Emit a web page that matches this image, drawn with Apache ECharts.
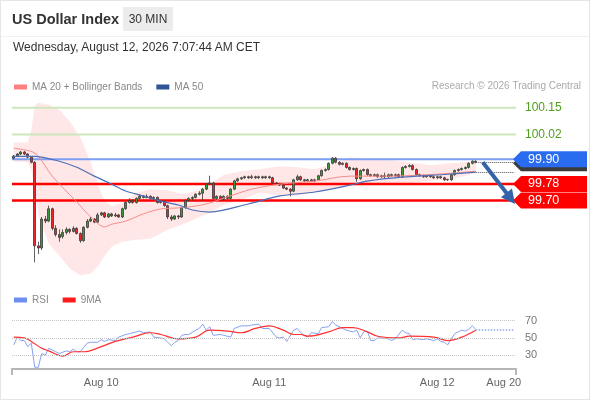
<!DOCTYPE html>
<html>
<head>
<meta charset="utf-8">
<script src="https://cdn.jsdelivr.net/npm/echarts@6/dist/echarts.min.js"></script>
<style>
  html, body { margin: 0; padding: 0; background: #fff; }
  #page { position: relative; width: 590px; height: 400px; overflow: hidden; font-family: 'Liberation Sans', Arial, sans-serif; }
  #chart { position: absolute; left: 0; top: 0; width: 590px; height: 400px; }
  .frame { position: absolute; left: 0; top: 0; width: 588px; height: 398px; border: 1px solid #e6e6e6; pointer-events: none; }
  .hdr { position: absolute; left: 0; top: 0; width: 590px; height: 36px; border-bottom: 1px solid #f0f0f0; }
  .ttl { position: absolute; left: 12px; top: 11px; font-size: 14.5px; font-weight: bold; color: #333; }
  .badge { position: absolute; left: 123px; top: 7px; width: 50px; height: 24px; line-height: 24px; text-align: center; background: #ececec; font-size: 12px; color: #333; }
  .date { position: absolute; left: 13px; top: 40px; font-size: 12px; color: #333; }
</style>
</head>
<body>
<div id="page">
  <div id="chart"></div>
  <div class="hdr">
    <div class="ttl">US Dollar Index</div>
    <div class="badge">30 MIN</div>
  </div>
  <div class="date">Wednesday, August 12, 2026 7:07:44 AM CET</div>
  <div class="frame"></div>
</div>
<script>
// 30 min candles, [open, close, low, high]
const candles = [
  [99.905,99.915,99.900,99.920],[99.915,99.925,99.910,99.930],[99.925,99.935,99.920,99.940],[99.935,99.925,99.920,99.940],
  [99.925,99.910,99.905,99.930],[99.910,99.885,99.880,99.915],[99.885,99.480,99.400,99.890],[99.480,99.470,99.440,99.500],
  [99.470,99.610,99.460,99.620],[99.610,99.600,99.590,99.625],[99.600,99.660,99.595,99.675],[99.660,99.565,99.555,99.665],
  [99.565,99.535,99.525,99.580],[99.535,99.520,99.500,99.560],[99.525,99.545,99.515,99.560],[99.545,99.560,99.535,99.570],
  [99.560,99.550,99.540,99.565],[99.550,99.565,99.545,99.575],[99.565,99.540,99.535,99.570],[99.540,99.505,99.495,99.545],
  [99.505,99.570,99.500,99.575],[99.570,99.600,99.565,99.610],[99.600,99.610,99.595,99.620],[99.610,99.595,99.590,99.615],
  [99.595,99.630,99.590,99.640],[99.630,99.640,99.625,99.645],[99.640,99.620,99.615,99.645],[99.620,99.635,99.615,99.640],
  [99.635,99.625,99.620,99.640],[99.625,99.630,99.620,99.640],[99.630,99.620,99.615,99.635],[99.620,99.660,99.615,99.665],
  [99.660,99.690,99.655,99.695],[99.690,99.700,99.685,99.710],[99.700,99.690,99.685,99.705],[99.690,99.710,99.685,99.715],
  [99.710,99.720,99.705,99.730],[99.720,99.715,99.710,99.725],[99.715,99.720,99.710,99.730],[99.720,99.710,99.705,99.725],
  [99.710,99.715,99.700,99.720],[99.715,99.690,99.685,99.720],[99.690,99.695,99.685,99.700],[99.695,99.675,99.670,99.700],
  [99.675,99.620,99.610,99.680],[99.620,99.610,99.600,99.630],[99.610,99.625,99.605,99.630],[99.625,99.620,99.610,99.630],
  [99.620,99.665,99.615,99.670],[99.665,99.700,99.660,99.705],[99.700,99.710,99.695,99.715],[99.710,99.715,99.700,99.720],
  [99.715,99.730,99.710,99.735],[99.730,99.735,99.725,99.745],[99.735,99.755,99.700,99.760],[99.755,99.780,99.750,99.785],
  [99.780,99.785,99.775,99.820],[99.785,99.710,99.705,99.790],[99.710,99.720,99.705,99.725],[99.720,99.705,99.700,99.725],
  [99.705,99.720,99.700,99.725],[99.720,99.710,99.705,99.725],[99.710,99.755,99.705,99.760],[99.755,99.795,99.750,99.800],
  [99.795,99.805,99.790,99.810],[99.805,99.810,99.800,99.815],[99.810,99.815,99.805,99.820],[99.815,99.810,99.805,99.820],
  [99.810,99.815,99.805,99.825],[99.815,99.810,99.805,99.820],[99.810,99.815,99.805,99.820],[99.815,99.810,99.805,99.820],
  [99.810,99.815,99.805,99.820],[99.815,99.810,99.805,99.820],[99.810,99.785,99.780,99.815],[99.785,99.780,99.775,99.790],
  [99.780,99.775,99.770,99.785],[99.775,99.760,99.755,99.780],[99.760,99.755,99.750,99.765],[99.755,99.745,99.720,99.760],
  [99.745,99.800,99.740,99.805],[99.800,99.815,99.795,99.825],[99.815,99.800,99.795,99.820],[99.800,99.795,99.790,99.805],
  [99.795,99.800,99.790,99.805],[99.800,99.795,99.790,99.805],[99.795,99.800,99.790,99.805],[99.800,99.820,99.795,99.825],
  [99.820,99.845,99.815,99.850],[99.845,99.850,99.840,99.855],[99.850,99.880,99.845,99.885],[99.880,99.905,99.875,99.910],
  [99.905,99.885,99.880,99.910],[99.885,99.875,99.870,99.890],[99.875,99.880,99.870,99.885],[99.880,99.860,99.855,99.885],
  [99.860,99.850,99.845,99.865],[99.850,99.855,99.845,99.860],[99.855,99.805,99.790,99.860],[99.805,99.845,99.800,99.850],
  [99.845,99.850,99.840,99.855],[99.850,99.825,99.820,99.855],[99.825,99.820,99.815,99.830],[99.820,99.825,99.815,99.830],
  [99.825,99.815,99.810,99.830],[99.815,99.820,99.810,99.825],[99.820,99.815,99.805,99.835],[99.815,99.825,99.810,99.830],
  [99.825,99.820,99.815,99.830],[99.820,99.825,99.815,99.830],[99.825,99.815,99.810,99.830],[99.815,99.860,99.810,99.865],
  [99.860,99.865,99.855,99.870],[99.865,99.870,99.860,99.875],[99.870,99.850,99.845,99.875],[99.850,99.825,99.820,99.855],
  [99.825,99.820,99.815,99.830],[99.820,99.815,99.810,99.825],[99.815,99.820,99.810,99.825],[99.820,99.815,99.810,99.825],
  [99.815,99.810,99.805,99.820],[99.810,99.815,99.805,99.820],[99.815,99.810,99.805,99.820],[99.810,99.800,99.795,99.815],
  [99.800,99.802,99.795,99.805],[99.800,99.825,99.795,99.830],[99.825,99.845,99.820,99.850],[99.845,99.850,99.840,99.855],
  [99.850,99.855,99.845,99.860],[99.855,99.860,99.850,99.865],[99.860,99.880,99.855,99.885],[99.880,99.890,99.875,99.895],
  [99.890,99.885,99.880,99.895]
];

// overlays, [slot index, value]
const ma20 = [[0,99.953],[5,99.938],[7,99.915],[11,99.818],[18,99.693],[22,99.62],[26,99.572],[28,99.585],[32,99.60],
  [37,99.635],[42,99.659],[47,99.664],[52,99.673],[56,99.688],[61,99.717],[68,99.755],[76,99.779],[86,99.794],
  [96,99.818],[108,99.818],[116,99.823],[125,99.832],[132,99.842]];
const ma50 = [[0,99.914],[6,99.914],[13,99.89],[18,99.861],[23,99.818],[28,99.779],[32,99.746],[37,99.722],[42,99.697],
  [47,99.678],[51,99.654],[56,99.644],[67,99.683],[76,99.722],[86,99.741],[96,99.774],[101,99.794],[111,99.813],
  [124,99.827],[132,99.837]];
const bbIdx   = [0, 4, 5, 6, 7, 10, 13, 16, 19, 22, 24, 26, 28, 31, 35, 39, 44, 48, 52, 56, 60, 65, 70, 76, 81, 86, 91, 96, 101, 108, 113, 119, 125, 132];
const bbUpper = [99.981, 99.981, 100.04, 100.16, 100.174, 100.164, 100.14, 100.083, 100.006, 99.885, 99.779, 99.697, 99.673, 99.688, 99.736, 99.755, 99.75, 99.731, 99.746, 99.779, 99.823, 99.842, 99.851, 99.866, 99.861, 99.851, 99.876, 99.909, 99.904, 99.895, 99.885, 99.871, 99.88, 99.89];
const bbLower = [99.89, 99.885, 99.85, 99.755, 99.635, 99.49, 99.433, 99.37, 99.336, 99.346, 99.38, 99.433, 99.476, 99.5, 99.51, 99.514, 99.558, 99.582, 99.611, 99.64, 99.678, 99.702, 99.736, 99.726, 99.722, 99.741, 99.755, 99.77, 99.779, 99.779, 99.784, 99.794, 99.803, 99.832];

const rsi = [[0,42],[1,51],[2,47],[3,47],[4,40],[5,44],[6,16],[7,16],[8,32],[9,30],[10,38],[12,34],[13,32],[15,35],
  [16,34],[17,37],[18,34],[19,34],[21,44],[22,45],[24,45],[25,48],[26,46],[27,48],[29,47],[30,51],[32,54],[33,55],
  [35,57],[36,58],[37,56],[39,57],[40,51],[42,50],[43,49],[44,45],[45,41],[46,45],[47,47],[48,53],[49,54],[50,54],
  [52,59],[53,61],[54,66],[55,59],[56,63],[57,53],[59,54],[60,53],[62,51],[63,61],[65,64],[67,64],[68,65],[70,66],
  [71,61],[73,61],[75,51],[76,50],[77,51],[78,46],[80,59],[81,61],[82,56],[83,53],[84,51],[85,56],[87,55],[88,62],
  [90,63],[91,69],[92,65],[94,61],[95,59],[97,57],[98,59],[99,50],[100,57],[101,58],[102,47],[103,47],[104,50],
  [105,50],[107,49],[108,47],[109,49],[111,59],[112,56],[113,55],[114,48],[115,49],[117,48],[118,49],[120,47],
  [121,49],[122,46],[123,45],[124,42],[125,49],[126,55],[127,57],[128,59],[129,58],[130,60],[131,64],[132,60]];
const rsiMa = [[0,51],[3,50],[5,46],[8,38],[10,35],[14,29],[17,34],[20,34],[25,40],[29,46],[34,51],[39,56],[42,54],
  [47,49],[52,51],[56,59],[61,58],[65,56],[69,61],[73,64],[77,59],[80,54],[82,54],[84,52],[90,57],[94,62],[97,62],
  [101,57],[104,52],[110,50],[113,52],[120,51],[124,47],[128,51],[132,59]];
const rsiLevels = [70, 50, 30];

const levels     = [100.15, 100.02, 99.90, 99.78, 99.70];
const levelKinds = ['target', 'target', 'pivot', 'support', 'support'];

const tickIdx  = [25, 73, 121, 140];
const tickText = ['Aug 10', 'Aug 11', 'Aug 12', 'Aug 20'];
const slotCount = 144;

const lastPrice = 99.885;
const lastMa = 99.837;
const lastRsi = 60;
const arrowFrom = [134, 99.885];
const arrowTo   = [142, 99.71];

const slots = [];
for (let i = 0; i < slotCount; i++) slots.push(String(i));

const levelStyle = {
  target:  { line: '#cde6bd', width: 2 },
  pivot:   { line: '#7d9ff3', width: 2, tag: '#2a6cf0' },
  support: { line: '#ff0000', width: 2.4, tag: '#ff0000' }
};

const FONT = 'Liberation Sans, Arial, sans-serif';
const chart = echarts.init(document.getElementById('chart'));

// grid edges shared by both panels
const gridLeft = 12, gridRight = 74, rsiTop = 303, rsiHeight = 66;

chart.setOption({
  animation: false,
  textStyle: { fontFamily: FONT },
  legend: [
    {
      left: 14, top: 82, padding: 0, itemWidth: 13, itemHeight: 5, itemGap: 14, icon: 'rect', selectedMode: false,
      textStyle: { color: '#888', fontSize: 10 },
      data: [
        { name: 'MA 20 + Bollinger Bands', itemStyle: { color: '#ff8080' } },
        { name: 'MA 50', itemStyle: { color: '#2f5597' } }
      ]
    },
    {
      left: 14, top: 295, padding: 0, itemWidth: 13, itemHeight: 5, itemGap: 14, icon: 'rect', selectedMode: false,
      textStyle: { color: '#888', fontSize: 10 },
      data: [
        { name: 'RSI', itemStyle: { color: '#6f8fef' } },
        { name: '9MA', itemStyle: { color: '#ff1a1a' } }
      ]
    }
  ],
  graphic: [
    {
      type: 'text', right: 9, top: 81,
      style: { text: 'Research \u00a9 2026 Trading Central', fill: '#aaa', font: '10px ' + FONT }
    },
    {
      type: 'line', silent: true,
      shape: { x1: gridLeft, y1: rsiTop + rsiHeight, x2: gridLeft, y2: rsiTop + rsiHeight + 6 },
      style: { stroke: '#b5b5b5', lineWidth: 2 }
    },
    {
      type: 'line', silent: true,
      shape: { x1: 590 - gridRight, y1: rsiTop + rsiHeight, x2: 590 - gridRight, y2: rsiTop + rsiHeight + 6 },
      style: { stroke: '#b5b5b5', lineWidth: 2 }
    }
  ],
  grid: [
    { left: gridLeft, right: gridRight, top: 87, height: 196 },
    { left: gridLeft, right: gridRight, top: rsiTop, height: rsiHeight }
  ],
  xAxis: [
    { type: 'category', gridIndex: 0, data: slots, show: false },
    {
      type: 'category', gridIndex: 1, data: slots,
      axisLine: { lineStyle: { color: '#b5b5b5', width: 2 } },
      axisTick: { show: false },
      axisLabel: {
        interval: 0, color: '#666', fontSize: 11, margin: 8,
        formatter: (v, i) => { const k = tickIdx.indexOf(i); return k >= 0 ? tickText[k] : ''; }
      }
    }
  ],
  yAxis: [
    { type: 'value', gridIndex: 0, min: 99.30, max: 100.25, show: false, splitLine: { show: false } },
    { type: 'value', gridIndex: 1, min: 14, max: 90.5, show: false, splitLine: { show: false } }
  ],
  series: [
    {
      type: 'custom', name: 'band', xAxisIndex: 0, yAxisIndex: 0, z: 1, silent: true, clip: true,
      data: bbIdx.map((x, k) => [x, bbUpper[k], bbLower[k]]),
      encode: { x: 0, y: [1, 2] },
      renderItem: function (params, api) {
        if (params.dataIndex !== 0) return null;
        const pts = [];
        for (let k = 0; k < bbIdx.length; k++) pts.push(api.coord([bbIdx[k], bbUpper[k]]));
        for (let k = bbIdx.length - 1; k >= 0; k--) pts.push(api.coord([bbIdx[k], bbLower[k]]));
        return { type: 'polygon', shape: { points: pts }, style: { fill: 'rgba(255,110,110,0.17)' } };
      }
    },
    {
      type: 'custom', name: 'levels', xAxisIndex: 0, yAxisIndex: 0, z: 2, silent: true, clip: false,
      data: levels.map((v) => [0, v]),
      encode: { x: 0, y: 1 },
      renderItem: function (params, api) {
        const k = params.dataIndex;
        const v = levels[k];
        const st = levelStyle[levelKinds[k]];
        const cs = params.coordSys;
        const y = api.coord([0, v])[1];
        const right = cs.x + cs.width;
        const children = [{
          type: 'line', shape: { x1: cs.x, y1: y, x2: right, y2: y },
          style: { stroke: st.line, lineWidth: st.width }
        }];
        if (levelKinds[k] === 'target') {
          children.push({
            type: 'text', x: right + 9, y: y,
            style: { text: v.toFixed(2), fill: '#4f9d1e', font: '12px ' + FONT, verticalAlign: 'middle' }
          });
        } else {
          const x0 = right - 3, w = 74, h = 16;
          const tag = (dy) => [[x0, y + dy], [x0 + 8, y - h / 2 + dy], [x0 + w, y - h / 2 + dy], [x0 + w, y + h / 2 + dy], [x0 + 8, y + h / 2 + dy]];
          if (levelKinds[k] === 'pivot') {
            children.push({ type: 'polygon', shape: { points: tag(4) }, style: { fill: '#3b3b3b' } });
          }
          children.push({ type: 'polygon', shape: { points: tag(0) }, style: { fill: st.tag } });
          children.push({
            type: 'text', x: x0 + 15, y: y,
            style: { text: v.toFixed(2), fill: '#fff', font: '12.5px ' + FONT, verticalAlign: 'middle' }
          });
        }
        return { type: 'group', children: children };
      }
    },
    {
      type: 'candlestick', name: 'USD Index', xAxisIndex: 0, yAxisIndex: 0, z: 3,
      data: candles, barWidth: 2.6,
      itemStyle: { color: '#3a9a3a', color0: '#e8242a', borderColor: '#3a3a3a', borderColor0: '#3a3a3a', borderWidth: 0.8 },
      markLine: {
        silent: true, symbol: ['none', 'none'], label: { show: false },
        data: [
          [{ coord: [132, lastPrice], lineStyle: { color: '#555', type: 'dotted', width: 1 } }, { coord: [slotCount - 1, lastPrice] }],
          [{ coord: [132, lastMa], lineStyle: { color: '#555', type: 'dotted', width: 1 } }, { coord: [slotCount - 1, lastMa] }],
          [
            { coord: arrowFrom, symbol: 'none', lineStyle: { color: '#3463a8', width: 4, type: 'solid' } },
            { coord: arrowTo, symbol: 'triangle', symbolSize: [14, 14] }
          ]
        ]
      }
    },
    {
      type: 'line', name: 'MA 20 + Bollinger Bands', xAxisIndex: 0, yAxisIndex: 0, z: 4,
      data: ma20, smooth: 0.3, showSymbol: false, color: '#ff8080',
      lineStyle: { color: '#f48a8a', width: 1 }
    },
    {
      type: 'line', name: 'MA 50', xAxisIndex: 0, yAxisIndex: 0, z: 4,
      data: ma50, smooth: 0.3, showSymbol: false, color: '#2f5597',
      lineStyle: { color: '#4d6fb8', width: 1.2 }
    },
    {
      type: 'line', name: 'RSI', xAxisIndex: 1, yAxisIndex: 1, z: 3,
      data: rsi, showSymbol: false, color: '#6f8fef',
      lineStyle: { color: '#86a0f0', width: 1 },
      markLine: {
        silent: true, symbol: ['none', 'none'],
        data: [
          ...rsiLevels.map((v) => ({
            yAxis: v, lineStyle: { color: '#c4c4c4', type: 'dotted', width: 1 },
            label: { show: true, position: 'end', formatter: String(v), color: '#777', fontSize: 11, distance: 9 }
          })),
          [
            { coord: [132, lastRsi], lineStyle: { color: '#8fa8ee', type: 'dotted', width: 1.5 }, label: { show: false } },
            { coord: [slotCount - 1, lastRsi] }
          ]
        ]
      }
    },
    {
      type: 'line', name: '9MA', xAxisIndex: 1, yAxisIndex: 1, z: 4,
      data: rsiMa, smooth: 0.4, showSymbol: false, color: '#ff1a1a',
      lineStyle: { color: '#ff3030', width: 1.2 }
    }
  ]
});
</script>
</body>
</html>
